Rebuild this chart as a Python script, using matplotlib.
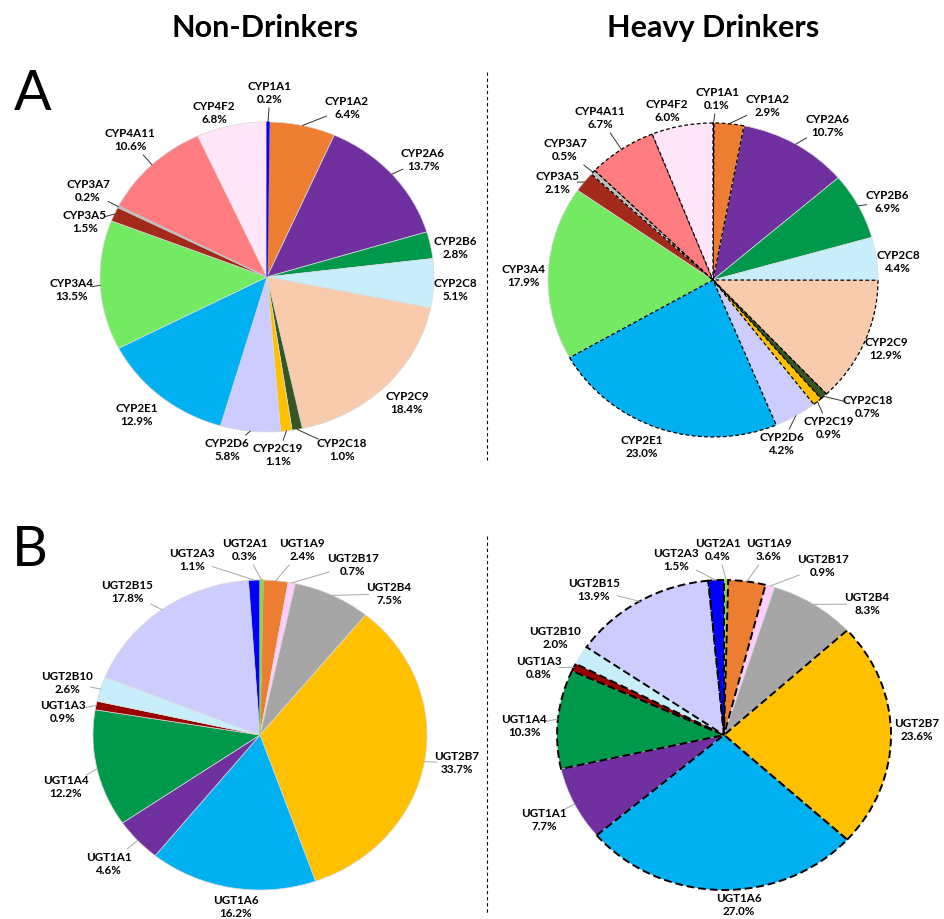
import numpy as np
import matplotlib.pyplot as plt
from matplotlib.lines import Line2D

W, H = 945, 919
plt.rcParams['font.family'] = ['Lato', 'DejaVu Sans']

# CYP450 isoforms, share of total (%)
cyp_names = ['CYP1A1', 'CYP1A2', 'CYP2A6', 'CYP2B6', 'CYP2C8', 'CYP2C9', 'CYP2C18',
             'CYP2C19', 'CYP2D6', 'CYP2E1', 'CYP3A4', 'CYP3A5', 'CYP3A7', 'CYP4A11', 'CYP4F2']
cyp_non = [0.2, 6.4, 13.7, 2.8, 5.1, 18.4, 1.0, 1.1, 5.8, 12.9, 13.5, 1.5, 0.2, 10.6, 6.8]
cyp_heavy = [0.1, 2.9, 10.7, 6.9, 4.4, 12.9, 0.7, 0.9, 4.2, 23.0, 17.9, 2.1, 0.5, 6.7, 6.0]
cyp_colors = ['#0000FF', '#ED7D31', '#7030A0', '#00984A', '#C9EEFB', '#F8CBAD', '#375623',
              '#FFC000', '#CCCCFF', '#00B0F0', '#73EA62', '#A3291A', '#BFBFBF', '#FF7C80', '#FFE5F9']
cyp_changed = ['CYP1A1', 'CYP1A2', 'CYP2C9', 'CYP2C18', 'CYP2C19', 'CYP2E1',
               'CYP3A7', 'CYP4A11', 'CYP4F2']

# UGT isoforms, share of total (%)
ugt_names = ['UGT2A1', 'UGT1A9', 'UGT2B17', 'UGT2B4', 'UGT2B7', 'UGT1A6', 'UGT1A1',
             'UGT1A4', 'UGT1A3', 'UGT2B10', 'UGT2B15', 'UGT2A3']
ugt_non = [0.3, 2.4, 0.7, 7.5, 33.7, 16.2, 4.6, 12.2, 0.9, 2.6, 17.8, 1.1]
ugt_heavy = [0.4, 3.6, 0.9, 8.3, 23.6, 27.0, 7.7, 10.3, 0.8, 2.0, 13.9, 1.5]
ugt_colors = ['#92D050', '#ED7D31', '#FFCCFF', '#A6A6A6', '#FFC000', '#00B0F0', '#7030A0',
              '#00984A', '#990000', '#C9EEFB', '#CCCCFF', '#0000FF']
ugt_changed = ['UGT2A3', 'UGT1A9', 'UGT2B7', 'UGT1A6', 'UGT1A4', 'UGT1A3', 'UGT2B15']

# label centres (pixels) for each pie
lab_cyp_non = [(270, 93), (347, 108), (423, 160), (455, 248), (455, 290), (407, 403),
               (342, 450), (278, 455), (227, 450), (137, 415), (72, 290), (85, 222),
               (88, 191), (130, 140), (214, 113)]
lab_cyp_heavy = [(717, 99), (767, 106), (827, 126), (887, 202), (898, 262), (886, 349),
                 (868, 407), (829, 428), (782, 444), (642, 447), (523, 276), (557, 183),
                 (565, 150), (600, 118), (667, 111)]
lab_ugt_non = [(245, 550), (302, 550), (353, 565), (389, 594), (457, 763), (236, 907),
               (109, 864), (66, 787), (63, 712), (67, 683), (127, 592), (192, 560)]
lab_ugt_heavy = [(718, 550), (769, 550), (823, 566), (867, 604), (917, 730), (739, 905),
                 (544, 820), (524, 726), (539, 668), (555, 638), (594, 590), (676, 560)]

fig = plt.figure(figsize=(W / 100, H / 100), dpi=100)


def draw_pie(cx, cy, rx, ry, names, values, colors, labpos, changed, leader_color, dash):
    ax = fig.add_axes([(cx - rx) / W, (H - cy - ry) / H, 2 * rx / W, 2 * ry / H])
    wedges, _ = ax.pie(values, colors=colors, startangle=90, counterclock=False,
                       radius=1.0, wedgeprops=dict(edgecolor='#D9D9D9', linewidth=0.5))
    for w, n, v, c in zip(wedges, names, values, colors):
        if n in changed:
            w.set_edgecolor('black')
            w.set_linestyle(dash[0])
            w.set_linewidth(dash[1])
            w.set_zorder(3)
        elif v < 0.5:
            # keep hairline slices visible in their own colour
            w.set_edgecolor(c)
            w.set_linewidth(0.8)
            w.set_zorder(2)
    ax.set_aspect('auto')
    ax.set_xlim(-1, 1)
    ax.set_ylim(-1, 1)
    for w, n, v, (px, py) in zip(wedges, names, values, labpos):
        tx, ty = (px - cx) / rx, (cy - py) / ry
        ax.text(tx, ty, f'{n}\n{v:.1f}%', ha='center', va='center', fontsize=8.4,
                fontweight='bold', linespacing=1.3, clip_on=False, zorder=5)
        # leader from wedge edge to label box
        th = np.deg2rad((w.theta1 + w.theta2) / 2)
        ax_px, ay_px = cx + rx * np.cos(th), cy - ry * np.sin(th)
        dx, dy = ax_px - px, ay_px - py
        hw, hh = 3.4 * len(n), 15
        t = min(hw / abs(dx) if dx else np.inf, hh / abs(dy) if dy else np.inf)
        if t >= 1:
            continue
        ex, ey = px + t * dx, py + t * dy
        if np.hypot(ax_px - ex, ay_px - ey) < 6:
            continue
        ax.plot([np.cos(th), (ex - cx) / rx], [np.sin(th), (cy - ey) / ry],
                color=leader_color, lw=0.7, clip_on=False, zorder=4)
    return ax


draw_pie(267, 277, 167, 155, cyp_names, cyp_non, cyp_colors, lab_cyp_non, [],
         '#333333', ((0, (3, 2)), 0.9))
draw_pie(713, 280, 165, 157, cyp_names, cyp_heavy, cyp_colors, lab_cyp_heavy, cyp_changed,
         '#333333', ((0, (3, 2)), 0.9))
draw_pie(260, 735, 167, 155, ugt_names, ugt_non, ugt_colors, lab_ugt_non, [],
         '#A6A6A6', ((0, (4, 2)), 1.4))
draw_pie(724, 735, 167, 155, ugt_names, ugt_heavy, ugt_colors, lab_ugt_heavy, ugt_changed,
         '#A6A6A6', ((0, (4, 2)), 1.4))

# column titles and panel letters
fig.text(265 / W, 1 - 28 / H, 'Non-Drinkers', ha='center', va='center',
         fontsize=22, fontweight='bold')
fig.text(713 / W, 1 - 28 / H, 'Heavy Drinkers', ha='center', va='center',
         fontsize=22, fontweight='bold')
fig.text(33 / W, 1 - 94 / H, 'A', ha='center', va='center', fontsize=40)
fig.text(30 / W, 1 - 550 / H, 'B', ha='center', va='center', fontsize=40)

# dashed separators between the columns
for y0, y1 in [(72, 460), (536, 915)]:
    fig.add_artist(Line2D([487 / W, 487 / W], [1 - y0 / H, 1 - y1 / H], color='black',
                          lw=0.8, linestyle=(0, (3, 2.5))))

fig.savefig('out.png', dpi=100)
